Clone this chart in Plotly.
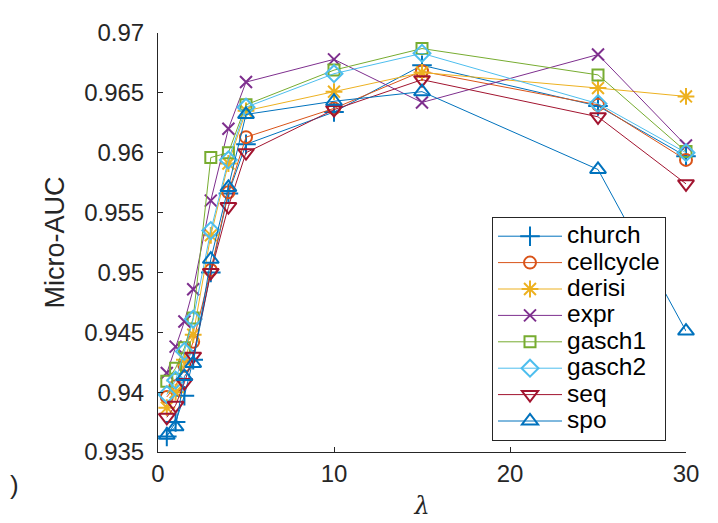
import plotly.graph_objects as go

lam = [0.5, 1, 1.5, 2, 3, 4, 5, 10, 15, 25, 30]

church = [0.9363, 0.9375, 0.9397, 0.9427, 0.9500, 0.9566, 0.9607, 0.9634, 0.9673, 0.9639, 0.9597]
cellcycle = [0.9396, 0.9405, 0.9422, 0.9442, 0.9502, 0.9567, 0.9613, 0.9637, 0.9668, 0.9640, 0.9594]
derisi = [0.9387, 0.9400, 0.9427, 0.9448, 0.9531, 0.9591, 0.9635, 0.9651, 0.9667, 0.9654, 0.9647]
expr = [0.9416, 0.9438, 0.9459, 0.9486, 0.9560, 0.9620, 0.9659, 0.9678, 0.9642, 0.9682, 0.9606]
gasch1 = [0.9409, 0.9420, 0.9437, 0.9462, 0.9596, 0.9600, 0.9640, 0.9669, 0.9687, 0.9665, 0.9601]
gasch2 = [0.9398, 0.9410, 0.9434, 0.9461, 0.9535, 0.9594, 0.9638, 0.9666, 0.9683, 0.9641, 0.9600]
seq = [0.9379, 0.9389, 0.9408, 0.9430, 0.9500, 0.9555, 0.9600, 0.9636, 0.9661, 0.9630, 0.9574]
spo = [0.9364, 0.9371, 0.9413, 0.9424, 0.9511, 0.9571, 0.9632, 0.9643, 0.9651, 0.9586, 0.9451]

names = ["church", "cellcycle", "derisi", "expr", "gasch1", "gasch2", "seq", "spo"]
series = [church, cellcycle, derisi, expr, gasch1, gasch2, seq, spo]
colors = ["#0072BD", "#D95319", "#EDB120", "#7E2F8E", "#77AC30", "#4DBEEE", "#A2142F", "#0072BD"]
symbols = ["cross-thin-open", "circle-open", "asterisk-open", "x-thin-open",
           "square-open", "diamond-open", "triangle-down-open", "triangle-up-open"]
sizes = [14, 12, 14, 12, 11, 13, 14, 14]

y_ticks = [0.935, 0.94, 0.945, 0.95, 0.955, 0.96, 0.965, 0.97]
y_tick_labels = ["0.935", "0.94", "0.945", "0.95", "0.955", "0.96", "0.965", "0.97"]
x_ticks = [0, 10, 20, 30]

FONT = "Liberation Sans, Arial, Helvetica, sans-serif"

fig = go.Figure()
for n, ys, c, s, sz in zip(names, series, colors, symbols, sizes):
    fig.add_trace(go.Scatter(
        x=lam, y=ys, mode="lines+markers",
        name='<span style="font-size:24.5px">' + n + '</span>',
        line=dict(color=c, width=1),
        marker=dict(symbol=s, size=sz, color=c, line=dict(color=c, width=2)),
        cliponaxis=False,
    ))

# page body adds an 8px offset, so the figure is 8px smaller and margins shifted
W, H = 710, 515
L, R, T, B = 150, 32, 25, 71
PW, PH = W - L - R, H - T - B
fig.update_layout(
    width=W, height=H,
    margin=dict(l=L, r=R, t=T, b=B),
    paper_bgcolor="white", plot_bgcolor="white",
    font=dict(family=FONT, size=20, color="#262626"),
    showlegend=True,
    legend=dict(
        x=(484 - L) / PW, y=(H - B - 209) / PH,
        xanchor="left", yanchor="top",
        bgcolor="white", bordercolor="#262626", borderwidth=1,
        font=dict(family=FONT, size=18, color="#000000"),
        itemwidth=64, tracegroupgap=0,
    ),
    xaxis=dict(
        range=[0, 30], tickmode="array", tickvals=x_ticks,
        ticks="inside", ticklen=5, tickcolor="#262626",
        showline=True, linecolor="#262626", linewidth=1,
        showgrid=False, zeroline=False, automargin=False,
        tickfont=dict(size=24),
        title=dict(text="<i>λ</i>", font=dict(size=24, family="DejaVu Serif, serif"), standoff=11),
    ),
    yaxis=dict(
        range=[0.935, 0.97], tickmode="array", tickvals=y_ticks, ticktext=y_tick_labels,
        ticks="inside", ticklen=5, tickcolor="#262626",
        showline=True, linecolor="#262626", linewidth=1,
        showgrid=False, zeroline=False, automargin=False,
        tickfont=dict(size=24), ticklabelstandoff=8,
        title=dict(text="Micro-AUC", font=dict(size=27), standoff=11),
    ),
)

fig.add_annotation(
    text=")", xref="paper", yref="paper",
    x=(0 - L) / PW, y=(H - B - 477) / PH,
    xanchor="left", yanchor="middle", showarrow=False,
    font=dict(size=26, color="#262626"),
)

fig.write_html("out.html")
